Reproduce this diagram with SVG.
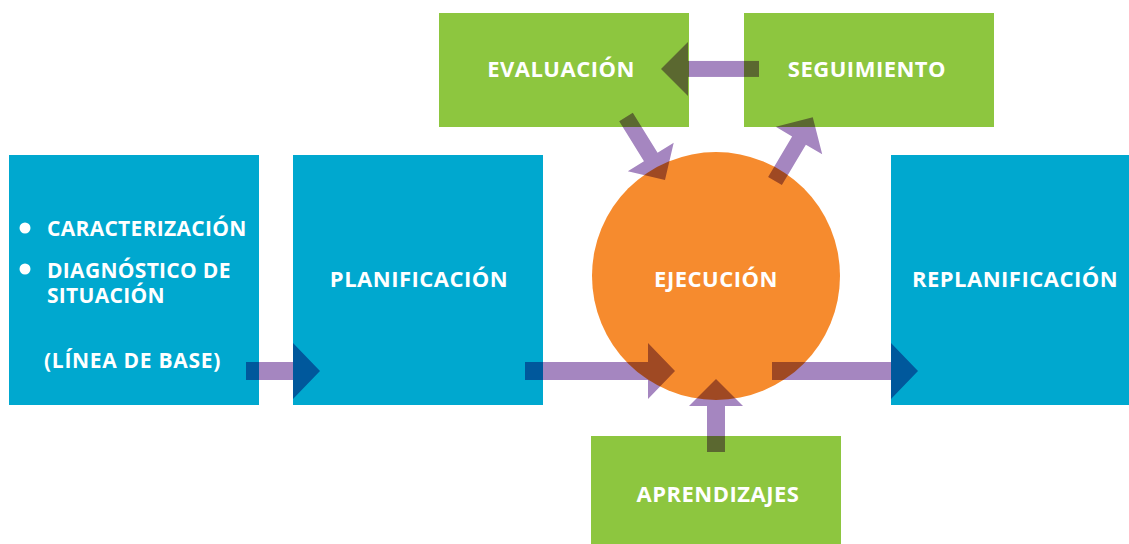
<svg xmlns="http://www.w3.org/2000/svg" width="1129" height="544" viewBox="0 0 1129 544">
<style>
.blue{fill:#00a8cf}
.green{fill:#8dc63f}
.orange{fill:#f68b2e}
.t{font-family:"Open Sans","Liberation Sans",sans-serif;font-weight:bold;font-size:22px;fill:#ffffff;letter-spacing:0.5px}
.s{font-size:21px;letter-spacing:0.3px}
.c{text-anchor:middle}
.arrows{mix-blend-mode:multiply}
.arrow{fill:#a586c0}
</style>
<rect width="1129" height="544" fill="#ffffff"/>
<g id="node-linea-base">
<rect class="blue" x="9" y="155" width="250" height="250"/>
<circle cx="25" cy="228" r="5.5" fill="#ffffff"/>
<circle cx="25" cy="269" r="5.5" fill="#ffffff"/>
<text class="t s" x="47" y="236">CARACTERIZACIÓN</text>
<text class="t s"><tspan x="47" y="278">DIAGNÓSTICO DE</tspan><tspan x="47" y="303">SITUACIÓN</tspan></text>
<text class="t s" x="44" y="368" style="letter-spacing:0.7px">(LÍNEA DE BASE)</text>
</g>
<g id="node-planificacion">
<rect class="blue" x="293" y="155" width="250" height="250"/>
<text class="t c" x="419" y="287">PLANIFICACIÓN</text>
</g>
<g id="node-replanificacion">
<rect class="blue" x="891" y="155" width="250" height="250"/>
<text class="t c" x="1015" y="287">REPLANIFICACIÓN</text>
</g>
<g id="node-evaluacion">
<rect class="green" x="439" y="13" width="250" height="114"/>
<text class="t c" x="561" y="77">EVALUACIÓN</text>
</g>
<g id="node-seguimiento">
<rect class="green" x="744" y="13" width="250" height="114"/>
<text class="t c" x="867" y="77">SEGUIMIENTO</text>
</g>
<g id="node-aprendizajes">
<rect class="green" x="591" y="436" width="250" height="108"/>
<text class="t c" x="718" y="502">APRENDIZAJES</text>
</g>
<g id="node-ejecucion">
<circle class="orange" cx="716" cy="276" r="124"/>
<text class="t c" x="716" y="287">EJECUCIÓN</text>
</g>
<g id="connectors" class="arrows">
<path class="arrow" transform="translate(246,371)" d="M0,-9 H47 V-28 L74,0 L47,28 V9 H0 Z"/>
<path class="arrow" transform="translate(525,371)" d="M0,-9 H123 V-28 L150,0 L123,28 V9 H0 Z"/>
<path class="arrow" transform="translate(772,371)" d="M0,-9 H119 V-28 L146,0 L119,28 V9 H0 Z"/>
<path class="arrow" transform="translate(716,452) rotate(-90)" d="M0,-9 H46 V-27 L73,0 L46,27 V9 H0 Z"/>
<path class="arrow" transform="translate(759,69) rotate(180)" d="M0,-8 H71 V-27 L98,0 L71,27 V8 H0 Z"/>
<path class="arrow" transform="translate(626,117) rotate(58.2)" d="M0,-8 H47 V-27 L74,0 L47,27 V8 H0 Z"/>
<path class="arrow" transform="translate(775,181) rotate(-59.3)" d="M0,-8 H47 V-27 L74,0 L47,27 V8 H0 Z"/>
</g>
</svg>
